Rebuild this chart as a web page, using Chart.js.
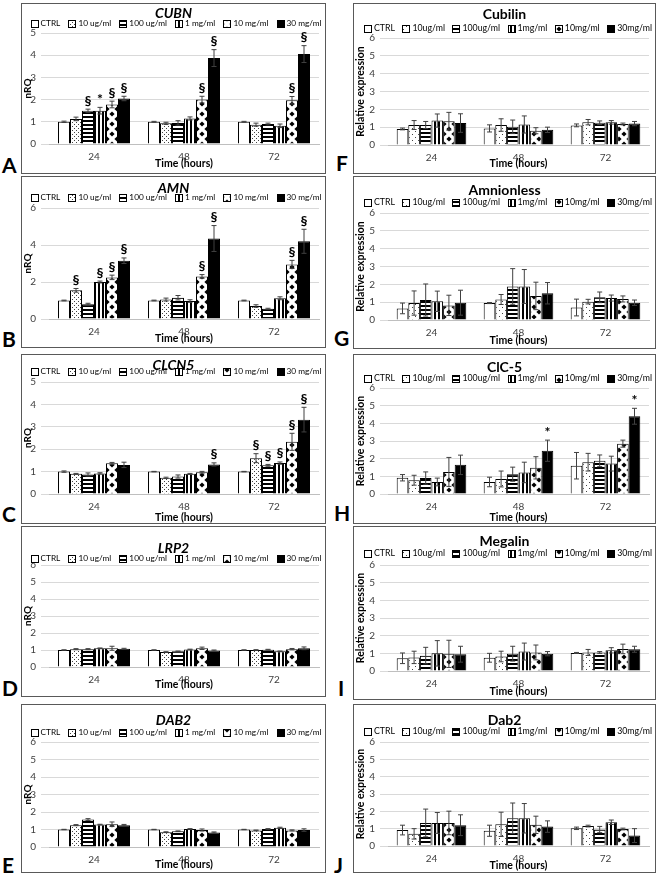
<!DOCTYPE html>
<html>
<head>
<meta charset="utf-8">
<script src="https://cdn.jsdelivr.net/npm/chart.js@4/dist/chart.umd.min.js"></script>
<style>
  body { margin: 0; background: #fff; width: 660px; height: 880px; position: relative; font-family: Lato, sans-serif; }
  .panel { position: absolute; border: 1px solid #595959; background: #fff; }
  .panel canvas { display: block; }
  .letter { position: absolute; font: bold 21px Lato, sans-serif; line-height: 21px; color: #000; }
</style>
</head>
<body>
<div class="panel" style="left:21px;top:3px"><canvas id="cA" width="303" height="169"></canvas></div>
<div class="panel" style="left:21px;top:176px"><canvas id="cB" width="303" height="170"></canvas></div>
<div class="panel" style="left:21px;top:354px"><canvas id="cC" width="303" height="168"></canvas></div>
<div class="panel" style="left:21px;top:526px"><canvas id="cD" width="303" height="169"></canvas></div>
<div class="panel" style="left:21px;top:704px"><canvas id="cE" width="303" height="167"></canvas></div>
<div class="panel" style="left:353px;top:3px"><canvas id="cF" width="301" height="169"></canvas></div>
<div class="panel" style="left:353px;top:176px"><canvas id="cG" width="301" height="171"></canvas></div>
<div class="panel" style="left:353px;top:354px"><canvas id="cH" width="301" height="168"></canvas></div>
<div class="panel" style="left:353px;top:526px"><canvas id="cI" width="301" height="172"></canvas></div>
<div class="panel" style="left:353px;top:704px"><canvas id="cJ" width="301" height="167"></canvas></div>
<div class="letter" style="left:2px;top:154px">A</div>
<div class="letter" style="left:2px;top:328px">B</div>
<div class="letter" style="left:2px;top:503px">C</div>
<div class="letter" style="left:2px;top:677px">D</div>
<div class="letter" style="left:2px;top:854px">E</div>
<div class="letter" style="left:336px;top:152px">F</div>
<div class="letter" style="left:334px;top:327px">G</div>
<div class="letter" style="left:334px;top:502px">H</div>
<div class="letter" style="left:338px;top:677px">I</div>
<div class="letter" style="left:334px;top:854px">J</div>
<script>
// categories
const hours = ["24", "48", "72"];
const dosesLeft = ["CTRL", "10 ug/ml", "100 ug/ml", "1 mg/ml", "10 mg/ml", "30 mg/ml"];
const dosesRight = ["CTRL", "10ug/ml", "100ug/ml", "1mg/ml", "10mg/ml", "30mg/ml"];

// each row = one dose, values at 24 / 48 / 72 h
// A - CUBN
const cubnMean = [[1.00, 1.00, 1.00], [1.13, 0.93, 0.87], [1.50, 0.95, 0.90], [1.50, 1.15, 0.82], [1.78, 2.00, 1.97], [2.05, 3.87, 4.05]];
const cubnErr = [[0.03, 0.02, 0.02], [0.08, 0.05, 0.07], [0.07, 0.10, 0.04], [0.15, 0.07, 0.08], [0.15, 0.15, 0.17], [0.10, 0.38, 0.38]];
const cubnMarks = [["", "", ""], ["", "", ""], ["§", "", ""], ["*", "", ""], ["§", "§", "§"], ["§", "§", "§"]];
// B - AMN
const amnMean = [[1.00, 1.00, 1.00], [1.55, 1.05, 0.70], [0.80, 1.15, 0.55], [2.00, 0.97, 1.12], [2.25, 2.30, 2.95], [3.15, 4.35, 4.20]];
const amnErr = [[0.02, 0.02, 0.02], [0.10, 0.08, 0.07], [0.05, 0.12, 0.03], [0.05, 0.07, 0.08], [0.12, 0.10, 0.22], [0.15, 0.70, 0.65]];
const amnMarks = [["", "", ""], ["§", "", ""], ["", "", ""], ["§", "", ""], ["§", "§", "§"], ["§", "§", "§"]];
// C - CLCN5
const clcn5Mean = [[1.00, 1.00, 1.00], [0.90, 0.72, 1.60], [0.87, 0.78, 1.28], [0.92, 0.90, 1.38], [1.37, 0.97, 2.33], [1.30, 1.32, 3.32]];
const clcn5Err = [[0.03, 0.01, 0.01], [0.02, 0.03, 0.20], [0.07, 0.07, 0.04], [0.03, 0.02, 0.05], [0.04, 0.04, 0.38], [0.12, 0.07, 0.55]];
const clcn5Marks = [["", "", ""], ["", "", "§"], ["", "", "§"], ["", "", "§"], ["", "", "§"], ["", "§", "§"]];
// D - LRP2
const lrp2Mean = [[1.00, 1.00, 1.00], [1.05, 0.88, 1.00], [1.05, 0.92, 1.02], [1.10, 1.03, 0.92], [1.10, 1.10, 1.05], [1.07, 0.97, 1.10]];
const lrp2Err = [[0.01, 0.01, 0.01], [0.03, 0.02, 0.02], [0.03, 0.02, 0.02], [0.02, 0.02, 0.02], [0.12, 0.07, 0.04], [0.03, 0.03, 0.08]];
// E - DAB2
const dab2Mean = [[1.00, 1.00, 1.00], [1.25, 0.85, 0.95], [1.57, 0.90, 1.03], [1.28, 1.03, 1.10], [1.30, 0.97, 0.95], [1.25, 0.83, 0.97]];
const dab2Err = [[0.01, 0.01, 0.01], [0.03, 0.02, 0.02], [0.05, 0.02, 0.02], [0.02, 0.02, 0.03], [0.13, 0.06, 0.03], [0.04, 0.03, 0.07]];
// F - Cubilin
const cubilinMean = [[0.90, 0.93, 1.10], [1.12, 1.12, 1.28], [1.12, 1.02, 1.25], [1.37, 1.15, 1.27], [1.33, 0.80, 1.18], [1.23, 0.85, 1.20]];
const cubilinErr = [[0.05, 0.20, 0.08], [0.25, 0.35, 0.15], [0.20, 0.38, 0.10], [0.37, 0.48, 0.10], [0.50, 0.17, 0.05], [0.52, 0.15, 0.12]];
// G - Amnionless
const amnionlessMean = [[0.65, 0.95, 0.70], [0.95, 1.15, 1.03], [1.12, 1.88, 1.27], [1.05, 1.88, 1.23], [0.82, 1.35, 1.18], [0.97, 1.50, 0.97]];
const amnionlessErr = [[0.30, 0.03, 0.47], [0.68, 0.28, 0.13], [0.90, 1.00, 0.30], [0.57, 0.95, 0.17], [0.57, 0.77, 0.17], [0.70, 0.60, 0.15]];
// H - ClC-5
const clc5Mean = [[0.92, 0.68, 1.60], [0.78, 0.85, 1.80], [0.90, 1.12, 1.88], [0.68, 1.22, 1.72], [1.25, 1.48, 2.85], [1.65, 2.45, 4.40]];
const clc5Err = [[0.18, 0.27, 0.75], [0.28, 0.45, 0.50], [0.35, 0.40, 0.33], [0.22, 0.58, 0.42], [0.82, 0.63, 0.20], [0.55, 0.60, 0.45]];
const clc5Marks = [["", "", ""], ["", "", ""], ["", "", ""], ["", "", ""], ["", "", ""], ["", "*", "*"]];
// I - Megalin
const megalinMean = [[0.72, 0.75, 1.02], [0.77, 0.82, 1.05], [0.87, 0.98, 1.05], [1.00, 1.10, 1.17], [0.97, 1.05, 1.25], [0.95, 0.98, 1.23]];
const megalinErr = [[0.30, 0.25, 0.03], [0.35, 0.30, 0.17], [0.47, 0.42, 0.05], [0.72, 0.48, 0.15], [0.77, 0.42, 0.27], [0.45, 0.12, 0.17]];
// J - Dab2
const dab2pMean = [[0.92, 0.88, 1.02], [0.70, 1.25, 1.15], [1.33, 1.60, 0.95], [1.33, 1.60, 1.37], [1.33, 1.22, 0.98], [1.20, 1.12, 0.60]];
const dab2pErr = [[0.28, 0.32, 0.07], [0.30, 0.70, 0.05], [0.80, 0.88, 0.18], [0.60, 0.85, 0.13], [0.68, 0.50, 0.05], [0.60, 0.33, 0.40]];

const FONT = "Lato, 'Open Sans', sans-serif";
Chart.defaults.font.family = FONT;
Chart.defaults.color = "#595959";

function makePattern(size, draw) {
    const c = document.createElement("canvas");
    c.width = c.height = size;
    const g = c.getContext("2d");
    g.fillStyle = "#fff";
    g.fillRect(0, 0, size, size);
    g.fillStyle = "#000";
    draw(g, size);
    return g.createPattern(c, "repeat");
}

const dotsFine = makePattern(4, g => { g.fillStyle = "#444"; g.fillRect(0, 0, 1, 1); g.fillRect(2, 2, 1, 1); });
const dotsSparse = makePattern(6, g => { g.fillStyle = "#444"; g.fillRect(1, 1, 1, 1); g.fillRect(4, 4, 1, 1); });
const hStripes = makePattern(4, g => g.fillRect(0, 0, 4, 2));
const vStripes = makePattern(4, g => g.fillRect(0, 0, 2, 4));
const diamonds = makePattern(10, (g, s) => {
    const r = 2.6;
    [[0, 0], [s, 0], [0, s], [s, s], [s / 2, s / 2]].forEach(([x, y]) => {
        g.beginPath();
        g.moveTo(x, y - r); g.lineTo(x + r, y); g.lineTo(x, y + r); g.lineTo(x - r, y);
        g.closePath();
        g.fill();
    });
});

// error bars + significance marks, positioned with the y scale
const errorBars = {
    id: "errorBars",
    afterDatasetsDraw(chart) {
        const ctx = chart.ctx;
        const y = chart.scales.y;
        ctx.save();
        chart.data.datasets.forEach((ds, i) => {
            const meta = chart.getDatasetMeta(i);
            meta.data.forEach((bar, j) => {
                const v = ds.data[j], e = ds.errs[j];
                const top = y.getPixelForValue(v + e);
                const bot = y.getPixelForValue(v - e);
                ctx.strokeStyle = "#404040";
                ctx.lineWidth = 1;
                ctx.beginPath();
                ctx.moveTo(bar.x, top); ctx.lineTo(bar.x, bot);
                ctx.moveTo(bar.x - 2.5, top); ctx.lineTo(bar.x + 2.5, top);
                ctx.moveTo(bar.x - 2.5, bot); ctx.lineTo(bar.x + 2.5, bot);
                ctx.stroke();
                const mark = ds.marks && ds.marks[j];
                if (mark) {
                    ctx.fillStyle = "#000";
                    ctx.font = "bold 14px " + FONT;
                    ctx.textAlign = "center";
                    ctx.textBaseline = "bottom";
                    ctx.fillText(mark, bar.x, Math.min(top, bar.y) - 1);
                }
            });
        });
        ctx.restore();
    }
};

// title, legend row and x title, placed like the Excel originals
const panelHeader = {
    id: "panelHeader",
    afterDraw(chart, args, o) {
        const ctx = chart.ctx;
        const area = chart.chartArea;
        ctx.save();
        ctx.fillStyle = "#000";
        ctx.textBaseline = "middle";
        ctx.textAlign = "center";
        ctx.font = (o.italic ? "italic " : "") + "bold 14px " + FONT;
        ctx.fillText(o.title, chart.width / 2, o.titleY);

        ctx.font = "bold 10.5px " + FONT;
        ctx.fillText(o.xTitle, (area.left + area.right) / 2, o.xTitleY);

        const items = chart.data.datasets;
        let size = 10;
        let widths;
        const measure = () => {
            ctx.font = size + "px " + FONT;
            widths = items.map(ds => 7 + 3 + ctx.measureText(ds.label).width);
            return widths.reduce((a, b) => a + b, 0);
        };
        while (measure() + 5 * 7 > o.legendWidth && size > 7) size -= 0.25;
        const gap = (o.legendWidth - widths.reduce((a, b) => a + b, 0)) / (items.length - 1);
        let x = o.legendX;
        ctx.textAlign = "left";
        items.forEach((ds, i) => {
            const by = Math.round(o.legendY - 3.5) + 0.5;
            ctx.fillStyle = ds.backgroundColor;
            ctx.fillRect(Math.round(x) + 0.5, by, 7, 7);
            ctx.strokeStyle = "#000";
            ctx.lineWidth = 1;
            ctx.strokeRect(Math.round(x) + 0.5, by, 7, 7);
            ctx.fillStyle = "#000";
            ctx.fillText(ds.label, x + 10, o.legendY + 0.5);
            x += widths[i] + gap;
        });
        ctx.restore();
    }
};

// frame = [title centre, legend centre, plot top, plot bottom, x title centre], px from the top of the box
function createPanel(canvasId, opt) {
    const canvas = document.getElementById(canvasId);
    const [tC, lC, pTop, pBot, xtC] = opt.frame.map(v => v - 1);
    const fills = ["#fff", opt.right ? dotsSparse : dotsFine, hStripes, vStripes, diamonds, "#000"];
    const datasets = opt.labels.map((lab, i) => ({
        label: lab,
        data: opt.mean[i],
        errs: opt.err[i],
        marks: opt.marks ? opt.marks[i] : null,
        backgroundColor: fills[i],
        borderColor: "#000",
        borderWidth: 1,
        categoryPercentage: 0.8,
        barPercentage: 1.0,
    }));
    new Chart(canvas, {
        type: "bar",
        data: { labels: hours, datasets: datasets },
        plugins: [errorBars, panelHeader],
        options: {
            responsive: false,
            animation: false,
            layout: { padding: { left: 0, right: 6, top: pTop, bottom: 1 } },
            plugins: {
                title: { display: false },
                legend: { display: false },
                tooltip: { enabled: false },
                panelHeader: {
                    title: opt.title,
                    italic: !opt.right,
                    titleY: tC,
                    legendY: lC,
                    legendX: opt.right ? 10 : 8.5,
                    legendWidth: opt.right ? 288 : 291,
                    xTitle: "Time (hours)",
                    xTitleY: xtC,
                },
            },
            scales: {
                x: {
                    grid: { display: false, drawTicks: false },
                    border: { color: "#bfbfbf" },
                    ticks: { color: "#404040", font: { size: 10 }, padding: 7 },
                    afterFit(scale) { scale.height = canvas.height - 1 - pBot; },
                },
                y: {
                    min: 0,
                    max: opt.yMax,
                    ticks: { stepSize: opt.yStep, autoSkip: false, color: "#404040", font: { size: 10 }, padding: 5 },
                    grid: { color: "#d9d9d9" },
                    border: { display: false },
                    title: { display: true, text: opt.right ? "Relative expression" : "nRQ", color: "#000", font: { size: opt.right ? 10.5 : 10, weight: "bold" }, padding: 0 },
                    afterFit(scale) { scale.width = opt.right ? 34 : 27; },
                },
            },
        },
    });
}

createPanel("cA", { title: "CUBN", labels: dosesLeft, mean: cubnMean, err: cubnErr, marks: cubnMarks, yMax: 5, yStep: 1, frame: [10, 20, 30, 141, 161] });
createPanel("cB", { title: "AMN", labels: dosesLeft, mean: amnMean, err: amnErr, marks: amnMarks, yMax: 6, yStep: 2, frame: [12, 21, 32, 143, 163] });
createPanel("cC", { title: "CLCN5", labels: dosesLeft, mean: clcn5Mean, err: clcn5Err, marks: clcn5Marks, yMax: 5, yStep: 1, frame: [11.5, 17, 28, 140, 164] });
createPanel("cD", { title: "LRP2", labels: dosesLeft, mean: lrp2Mean, err: lrp2Err, yMax: 6, yStep: 1, frame: [22, 32, 39, 141, 159] });
createPanel("cE", { title: "DAB2", labels: dosesLeft, mean: dab2Mean, err: dab2Err, yMax: 6, yStep: 1, frame: [16, 28, 38, 143, 161] });
createPanel("cF", { right: true, title: "Cubilin", labels: dosesRight, mean: cubilinMean, err: cubilinErr, yMax: 6, yStep: 1, frame: [11, 25, 35, 142, 161] });
createPanel("cG", { right: true, title: "Amnionless", labels: dosesRight, mean: amnionlessMean, err: amnionlessErr, yMax: 6, yStep: 1, frame: [14, 26, 37, 144, 165] });
createPanel("cH", { right: true, title: "ClC-5", labels: dosesRight, mean: clc5Mean, err: clc5Err, marks: clc5Marks, yMax: 6, yStep: 1, frame: [13, 24, 34, 140, 164] });
createPanel("cI", { right: true, title: "Megalin", labels: dosesRight, mean: megalinMean, err: megalinErr, yMax: 6, yStep: 1, frame: [15, 27, 39, 145, 166] });
createPanel("cJ", { right: true, title: "Dab2", labels: dosesRight, mean: dab2pMean, err: dab2pErr, yMax: 6, yStep: 1, frame: [16, 27, 38, 142, 162] });
</script>
</body>
</html>
